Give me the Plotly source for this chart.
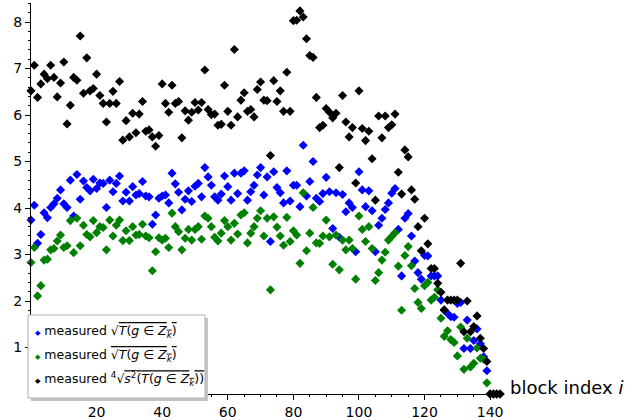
import plotly.graph_objects as go

block_index = list(range(0, 144))

sqrt_mean = [
    3.74, 4.06, 3.24, 3.43, 3.90, 3.79, 4.01, 4.09, 4.21, 4.39,
    4.09, 4.01, 4.60, 3.83, 4.72, 4.19, 4.58, 4.44, 4.37, 4.62,
    4.42, 4.54, 4.53, 4.01, 4.60, 4.35, 4.53, 4.69, 4.15, 4.34,
    4.15, 4.46, 4.28, 4.31, 4.57, 4.26, 4.24, 3.65, 3.85, 4.21,
    4.26, 4.28, 4.11, 4.75, 4.52, 4.34, 3.96, 4.19, 4.37, 4.14,
    4.47, 4.53, 4.24, 4.87, 4.67, 4.49, 4.24, 4.17, 4.30, 4.69,
    4.46, 4.17, 4.75, 4.31, 4.75, 4.80, 4.17, 4.35, 4.49, 4.71,
    4.87, 4.28, 4.67, 3.28, 4.78, 4.44, 4.33, 4.11, 4.80, 4.15,
    4.49, 4.49, 4.03, 5.35, 4.26, 4.57, 5.00, 4.21, 4.14, 4.31,
    4.66, 4.35, 3.56, 4.33, 3.37, 4.29, 3.92, 4.11, 4.01, 3.06,
    4.78, 4.39, 4.03, 4.37, 3.94, 3.06, 3.63, 3.78, 3.97, 4.11,
    4.32, 4.42, 3.54, 2.54, 3.78, 3.88, 3.40, 2.86, 2.61, 2.47,
    2.98, 2.97, 2.54, 2.54, 2.54, 2.02, 1.80, 1.73, 1.66, 1.65,
    1.95, 1.97, 0.98, 1.59, 0.98, 1.15, 1.40, 1.08, 0.80, 0.50,
    0.0, 0.0, 0.0, 0.0,
]

mean_sqrt = [
    2.83, 3.15, 2.11, 2.33, 2.88, 2.90, 3.10, 3.13, 3.29, 3.42,
    3.15, 3.19, 3.73, 3.04, 3.78, 3.19, 3.63, 3.43, 3.38, 3.73,
    3.47, 3.60, 3.58, 3.10, 3.74, 3.40, 3.63, 3.74, 3.30, 3.51,
    3.30, 3.60, 3.42, 3.43, 3.65, 3.40, 3.36, 2.65, 3.06, 3.36,
    3.31, 3.35, 3.15, 3.89, 3.60, 3.49, 3.10, 3.35, 3.54, 3.31,
    3.54, 3.60, 3.33, 3.83, 3.78, 3.60, 3.37, 3.29, 3.46, 3.73,
    3.60, 3.31, 3.67, 3.44, 3.85, 3.90, 3.25, 3.46, 3.60, 3.78,
    3.94, 3.40, 3.78, 2.24, 3.81, 3.59, 3.40, 3.20, 3.80, 3.28,
    3.51, 3.42, 2.81, 4.33, 3.08, 3.46, 4.01, 3.25, 3.24, 3.40,
    3.74, 3.38, 2.79, 3.42, 2.67, 3.31, 3.10, 3.31, 3.13, 2.47,
    3.83, 3.54, 3.28, 3.60, 3.13, 2.44, 2.61, 2.88, 3.05, 3.31,
    3.39, 3.47, 2.75, 1.80, 2.98, 3.17, 2.76, 2.27, 1.97, 1.84,
    2.33, 2.40, 2.02, 2.08, 2.24, 1.63, 1.24, 1.36, 1.17, 1.11,
    0.82, 1.44, 0.53, 1.20, 0.58, 0.66, 0.99, 0.77, 0.75, 0.24,
    0.0, 0.0, 0.0, 0.0,
]

fourth_root_var = [
    6.52, 7.07, 6.38, 6.67, 6.88, 6.78, 7.07, 6.81, 6.39, 6.69,
    7.14, 5.81, 6.21, 6.81, 6.75, 7.70, 6.47, 7.23, 6.52, 6.57,
    6.88, 6.42, 6.25, 5.85, 6.25, 6.51, 6.25, 6.72, 5.46, 5.88,
    5.53, 6.04, 5.62, 6.02, 6.29, 5.65, 5.68, 5.53, 5.33, 5.56,
    6.67, 6.25, 6.06, 6.64, 6.25, 6.29, 5.51, 6.09, 5.89, 6.06,
    6.27, 6.11, 6.27, 6.97, 6.12, 6.01, 6.02, 5.78, 5.80, 6.64,
    6.08, 5.78, 7.41, 5.96, 6.32, 6.48, 6.08, 6.12, 5.96, 6.55,
    6.71, 6.32, 6.31, 5.13, 6.74, 6.29, 6.52, 6.08, 6.92, 6.08,
    8.03, 8.04, 8.24, 8.11, 7.64, 7.28, 7.24, 6.38, 5.73, 5.78,
    6.14, 6.06, 5.94, 6.04, 4.87, 6.42, 5.85, 5.53, 5.73, 4.54,
    6.52, 5.71, 5.45, 5.65, 5.06, 4.17, 5.98, 5.51, 5.98, 5.73,
    5.79, 6.02, 4.77, 4.30, 5.25, 5.10, 4.39, 4.19, 3.60, 3.08,
    3.78, 3.23, 2.70, 2.70, 2.38, 2.19, 1.81, 2.02, 2.02, 2.02,
    2.02, 2.81, 1.34, 2.00, 1.34, 1.45, 1.68, 1.20, 0.98, 0.70,
    0.0, 0.0, 0.0, 0.0,
]

x_tick_vals = [20, 40, 60, 80, 100, 120, 140]
y_tick_vals = [1, 2, 3, 4, 5, 6, 7, 8]

OL = "<span style='text-decoration:overline'>"
names = [
    "measured √" + OL + "<i>T</i>(<i>g</i> ∈ <i>Z<sub>k</sub></i>)</span>",
    "measured " + OL + "√<i>T</i>(<i>g</i> ∈ <i>Z<sub>k</sub></i>)</span>",
    "measured <sup>4</sup>√" + OL + "<i>s</i><sup>2</sup>(<i>T</i>(<i>g</i> ∈ <i>Z<sub>k</sub></i>))</span>",
]
colors = ["#0000ff", "#008000", "#000000"]
series = [sqrt_mean, mean_sqrt, fourth_root_var]

fig = go.Figure()
for vals, col, nm in zip(series, colors, names):
    fig.add_trace(go.Scatter(
        x=block_index, y=vals, mode="markers", name=nm, showlegend=False,
        marker=dict(symbol="diamond", size=7, color=col, line=dict(width=0)),
        cliponaxis=False,
    ))

W, H = 641, 420
ml, mr, mt, mb = 31, 141, 3, 26
pw, ph = W - ml - mr, H - mt - mb

def px2paper(px, py):
    return (px - ml) / pw, (H - mb - py) / ph

# legend shadow and box
sx0, sy0 = px2paper(31, 318)
sx1, sy1 = px2paper(208, 401)
fig.add_shape(type="rect", xref="paper", yref="paper", x0=sx0, x1=sx1, y0=sy1, y1=sy0,
              fillcolor="#c4c4c4", line=dict(width=0), layer="above")
bx0, by0 = px2paper(28, 315)
bx1, by1 = px2paper(205, 398)
fig.add_shape(type="rect", xref="paper", yref="paper", x0=bx0, x1=bx1, y0=by1, y1=by0,
              fillcolor="white", line=dict(width=1, color="#b0b0b0"), layer="above")

entry_y = [331, 355, 379]
for nm, col, ey in zip(names, colors, entry_y):
    ax, ay = px2paper(33, ey)
    fig.add_annotation(
        x=ax, y=ay, xref="paper", yref="paper", xanchor="left", yanchor="middle",
        showarrow=False, align="left",
        text="<span style='color:%s;font-size:7px'>◆</span> %s" % (col, nm),
        font=dict(family="DejaVu Sans", size=12.5, color="black"),
    )

fig.update_layout(
    width=W, height=H,
    margin=dict(l=ml, r=mr, t=mt, b=mb, pad=0, autoexpand=False),
    paper_bgcolor="white", plot_bgcolor="white",
    template="none",
    font=dict(family="DejaVu Sans", size=13, color="black"),
    showlegend=False,
    xaxis=dict(range=[0, 143], showgrid=False, zeroline=False, showline=True,
               linecolor="black", linewidth=1, automargin=False,
               tickmode="array", tickvals=x_tick_vals, ticks="outside", ticklen=5,
               tickcolor="black", tickfont=dict(size=14, family="DejaVu Sans"),
               minor=dict(dtick=5, tick0=0, ticks="outside", ticklen=2, tickcolor="black")),
    yaxis=dict(range=[0, 8.41], showgrid=False, zeroline=False, showline=True,
               linecolor="black", linewidth=1, automargin=False,
               tickmode="array", tickvals=y_tick_vals, ticks="outside", ticklen=5,
               tickcolor="black", tickfont=dict(size=14, family="DejaVu Sans"),
               minor=dict(dtick=0.2, tick0=0, ticks="outside", ticklen=2, tickcolor="black")),
)

fig.add_annotation(x=143, y=0, xref="x", yref="y", xanchor="left", yanchor="middle",
                   xshift=8, yshift=7, showarrow=False,
                   text="block index <i>i</i>", font=dict(size=18, family="DejaVu Sans", color="black"))

fig.write_html("out.html", config={"displayModeBar": False},
               post_script="document.body.style.margin='0';document.body.style.overflow='hidden';")
